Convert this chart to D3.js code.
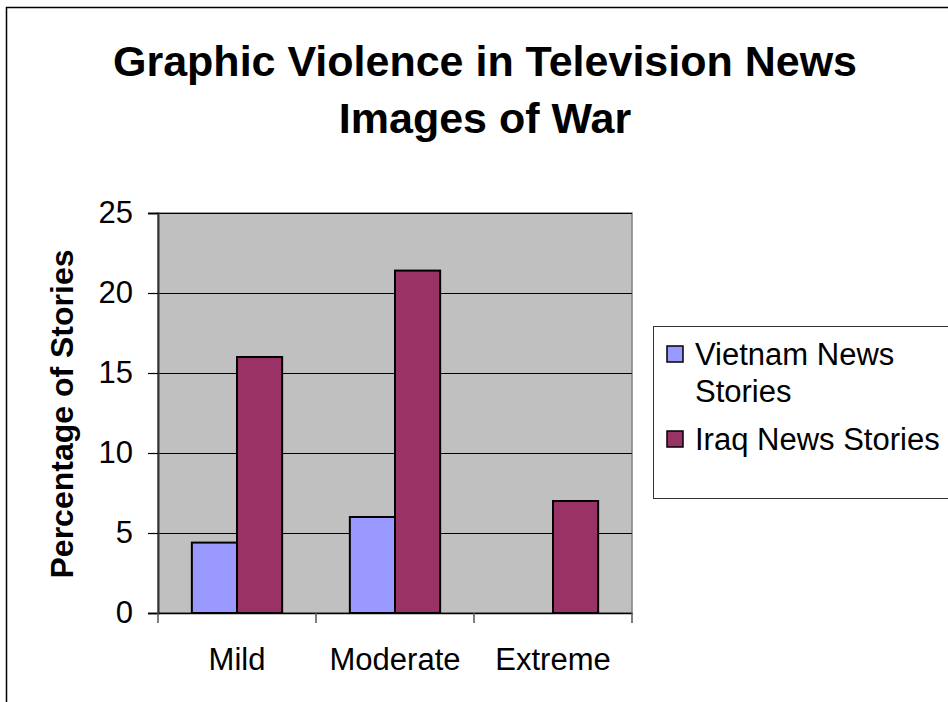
<!DOCTYPE html>
<html>
<head>
<meta charset="utf-8">
<script src="https://cdn.jsdelivr.net/npm/d3@7"></script>
<style>
  html, body { margin: 0; padding: 0; background: #fff; }
  svg { display: block; font-family: "Liberation Sans", Arial, sans-serif; }
</style>
</head>
<body>
<svg id="chart" width="948" height="702"></svg>
<script>
// Share of stories by level of graphic violence
const categories = ["Mild", "Moderate", "Extreme"];
const seriesNames = ["Vietnam News Stories", "Iraq News Stories"];
const vietnamValues = [4.4, 6.0, 0];
const iraqValues = [16.0, 21.4, 7.0];
const yTicks = [0, 5, 10, 15, 20, 25];
const titleLines = ["Graphic Violence in Television News", "Images of War"];
const yAxisTitle = "Percentage of Stories";

const seriesColors = ["#9999FF", "#993366"];
const seriesValues = [vietnamValues, iraqValues];

const svg = d3.select("#chart");

// outer chart frame (runs off the right and bottom edges)
svg.append("rect")
  .attr("x", 6.5).attr("y", 7.5)
  .attr("width", 1200).attr("height", 1200)
  .attr("fill", "#fff").attr("stroke", "#000").attr("stroke-width", 1.5);

const plot = { left: 158, right: 632, top: 213, bottom: 613 };

const x0 = d3.scaleBand().domain(categories).range([plot.left, plot.right]).padding(0);
const x1 = d3.scaleBand().domain(seriesNames).range([0, x0.bandwidth()])
  .paddingInner(0).paddingOuter(0.75);
const y = d3.scaleLinear().domain([0, 25]).range([plot.bottom, plot.top]);

// plot background
svg.append("rect")
  .attr("x", plot.left).attr("y", plot.top)
  .attr("width", plot.right - plot.left).attr("height", plot.bottom - plot.top)
  .attr("fill", "#C0C0C0").attr("stroke", "#808080").attr("stroke-width", 1.5);

// horizontal gridlines
svg.append("g").selectAll("line")
  .data(yTicks.filter(t => t > 0))
  .join("line")
  .attr("x1", plot.left).attr("x2", plot.right)
  .attr("y1", d => Math.round(y(d)) + 0.5).attr("y2", d => Math.round(y(d)) + 0.5)
  .attr("stroke", "#000").attr("stroke-width", 1.2);

// bars
const groups = svg.append("g").selectAll("g")
  .data(categories)
  .join("g")
  .attr("transform", d => `translate(${x0(d)},0)`);

groups.selectAll("rect")
  .data((c, i) => seriesNames.map((s, k) => ({ s, v: seriesValues[k][i], k })))
  .join("rect")
  .filter(d => d.v > 0)
  .attr("x", d => x1(d.s))
  .attr("y", d => y(d.v))
  .attr("width", x1.bandwidth())
  .attr("height", d => y(0) - y(d.v))
  .attr("fill", d => seriesColors[d.k])
  .attr("stroke", "#000").attr("stroke-width", 2);

// y axis
const yAxis = d3.axisLeft(y).tickValues(yTicks).tickSize(10).tickPadding(15).tickFormat(d3.format("d"));
const gy = svg.append("g").attr("transform", `translate(${plot.left},0)`).call(yAxis);
gy.select(".domain").attr("stroke", "#333").attr("stroke-width", 2);
gy.selectAll(".tick line").attr("stroke", "#000").attr("stroke-width", 1.2);
gy.selectAll(".tick text").attr("font-size", 31).attr("fill", "#000")
  .attr("font-family", "'Liberation Sans', Arial, sans-serif");

// x axis with ticks on category boundaries
const xAxis = d3.axisBottom(x0).tickSize(0).tickPadding(35);
const gx = svg.append("g").attr("transform", `translate(0,${plot.bottom})`).call(xAxis);
gx.select(".domain").attr("stroke", "#000").attr("stroke-width", 1.5);
gx.selectAll(".tick text").attr("font-size", 31).attr("fill", "#000")
  .attr("font-family", "'Liberation Sans', Arial, sans-serif");
svg.append("g").selectAll("line")
  .data(categories.map(c => x0(c)).concat([plot.right]))
  .join("line")
  .attr("x1", d => d).attr("x2", d => d)
  .attr("y1", plot.bottom).attr("y2", plot.bottom + 10)
  .attr("stroke", "#555").attr("stroke-width", 1.5);

// y axis title
svg.append("text")
  .attr("transform", "translate(73,414) rotate(-90)")
  .attr("text-anchor", "middle")
  .attr("font-size", 32).attr("font-weight", "bold")
  .text(yAxisTitle);

// chart title
svg.append("g").selectAll("text")
  .data(titleLines)
  .join("text")
  .attr("x", 485)
  .attr("y", (d, i) => 76 + i * 57)
  .attr("text-anchor", "middle")
  .attr("font-size", 43).attr("font-weight", "bold")
  .text(d => d);

// legend
const legend = svg.append("g");
legend.append("rect")
  .attr("x", 653.5).attr("y", 326.5).attr("width", 400).attr("height", 172)
  .attr("fill", "#fff").attr("stroke", "#333").attr("stroke-width", 1);

const legendItems = [
  { k: 0, lines: ["Vietnam News", "Stories"], top: 346 },
  { k: 1, lines: ["Iraq News Stories"], top: 431 }
];
legendItems.forEach(item => {
  legend.append("rect")
    .attr("x", 667).attr("y", item.top).attr("width", 16).attr("height", 16)
    .attr("fill", seriesColors[item.k]).attr("stroke", "#000").attr("stroke-width", 1.5);
  const t = legend.append("text")
    .attr("font-size", 31)
    .attr("x", 695).attr("y", item.top + 19);
  item.lines.forEach((ln, j) => {
    t.append("tspan").attr("x", 695).attr("dy", j === 0 ? 0 : 37).text(ln);
  });
});
</script>
</body>
</html>
